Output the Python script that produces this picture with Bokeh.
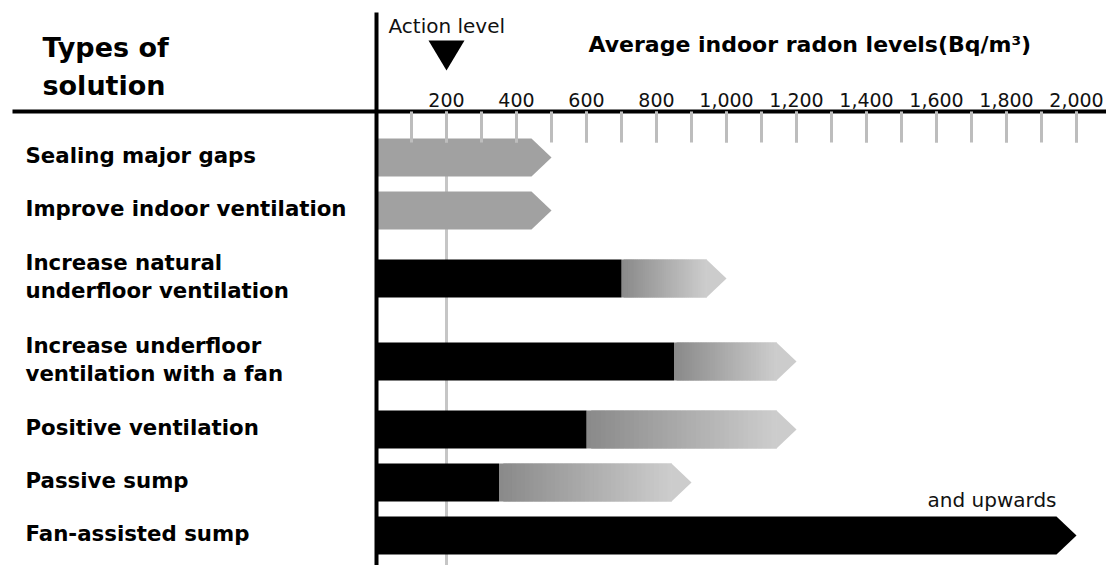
from bokeh.plotting import figure
from bokeh.models import Range1d, LinearAxis, FixedTicker, NumeralTickFormatter
from bokeh.core.properties import value
from bokeh.embed import file_html
from bokeh.resources import INLINE

# ---------------- data ----------------
solutions = [
    "Sealing major gaps",
    "Improve indoor ventilation",
    "Increase natural\nunderfloor ventilation",
    "Increase underfloor\nventilation with a fan",
    "Positive ventilation",
    "Passive sump",
    "Fan-assisted sump",
]
# level reached reliably (black part), Bq/m3
reliable_level = [0, 0, 700, 850, 600, 350, 2000]
# upper end of the range (arrow tip), Bq/m3
upper_level = [500, 500, 1000, 1200, 1200, 900, 2000]
action_level = 200
tick_values = [200, 400, 600, 800, 1000, 1200, 1400, 1600, 1800, 2000]
minor_tick_values = [100, 200, 300, 400, 500, 600, 700, 800, 900, 1000,
                     1100, 1200, 1300, 1400, 1500, 1600, 1700, 1800, 1900, 2000]
x_title = "Average indoor radon levels(Bq/m³)"
y_title = "Types of\nsolution"
action_text = "Action level"
note_text = "and upwards"

# ---------------- layout ----------------
W, H = 1106, 565
PX = 0.35          # pixels per Bq/m3
X0 = 376           # pixel position of zero
AXIS_Y = 111
HEAD = 20 / PX     # arrow head length
BAR_H = 38
FONT = "DejaVu Sans"


def xd(px):
    return (px - X0) / PX


p = figure(width=W, height=H, x_range=Range1d(xd(0), xd(W)), y_range=Range1d(H, 0),
           output_backend="svg", toolbar_location=None, min_border=0,
           x_axis_location=None, y_axis_location=None, outline_line_color=None)
p.grid.visible = False

# row positions from number of text lines
centers = []
pos = 130.5
for s in solutions:
    half = 26.5 if s.count("\n") == 0 else 41.5
    centers.append(pos + half)
    pos += 2 * half

# action level guide
p.segment(x0=[action_level], y0=[AXIS_Y], x1=[action_level], y1=[H],
          line_color="#c6c6c6", line_width=3)


def lerp(c0, c1, t):
    return "#%02x%02x%02x" % tuple(int(round(a + (b - a) * t)) for a, b in zip(c0, c1))


G0 = (0x8a, 0x8a, 0x8a)
G1 = (0xcc, 0xcc, 0xcc)
N = 40
for yc, lo, hi in zip(centers, reliable_level, upper_level):
    top, bot = yc - BAR_H / 2, yc + BAR_H / 2
    sh = hi - HEAD
    if lo >= hi:
        p.patch(x=[0, sh, hi, sh, 0], y=[top, top, yc, bot, bot], fill_color="black", line_color=None)
        continue
    if lo <= 0:
        p.patch(x=[0, sh, hi, sh, 0], y=[top, top, yc, bot, bot], fill_color="#a1a1a1", line_color=None)
        continue
    step = (sh - lo) / N
    lefts = [lo + k * step for k in range(N)]
    rights = [min(lo + (k + 2) * step, sh + 1) for k in range(N)]
    cols = [lerp(G0, G1, k / (N - 1)) for k in range(N)]
    p.quad(left=lefts, right=rights, top=[top] * N, bottom=[bot] * N, fill_color=cols, line_color=None)
    p.patch(x=[sh, hi, sh], y=[top, yc, bot], fill_color=lerp(G0, G1, 1.0), line_color=None)
    p.quad(left=[0], right=[lo], top=[top], bottom=[bot], fill_color="black", line_color=None)

# note above the last bar
p.text(x=[upper_level[-1] - HEAD], y=[centers[-1] - BAR_H / 2 - 17], text=[note_text],
       text_font=value(FONT), text_font_size="20px", text_align="right",
       text_baseline="alphabetic", text_color="#111111")

# row labels
for yc, s in zip(centers, solutions):
    lines = s.split("\n")
    n = len(lines)
    for k, ln in enumerate(lines):
        p.text(x=[xd(25)], y=[yc - 2 + (k - (n - 1) / 2) * 28], text=[ln],
               text_font=value(FONT), text_font_style="bold", text_font_size="21.3px",
               text_align="left", text_baseline="middle", text_color="black")

# vertical divider (zero line)
p.segment(x0=[0], y0=[12], x1=[0], y1=[H], line_color="black", line_width=4)

# top axis
ax = LinearAxis(fixed_location=AXIS_Y,
                ticker=FixedTicker(ticks=tick_values, minor_ticks=minor_tick_values),
                formatter=NumeralTickFormatter(format="0,0"),
                bounds=(xd(12), xd(W)),
                axis_line_color="black", axis_line_width=4,
                major_tick_in=31, major_tick_out=0, minor_tick_in=31, minor_tick_out=0,
                major_tick_line_color="#bdbdbd", major_tick_line_width=3,
                minor_tick_line_color="#bdbdbd", minor_tick_line_width=3,
                major_label_text_font=FONT, major_label_text_font_size="19px",
                major_label_text_color="#111111", major_label_standoff=5)
p.add_layout(ax, "above")

# header texts
yl = y_title.split("\n")
for k, ln in enumerate(yl):
    p.text(x=[xd(42)], y=[47 + k * 38], text=[ln], text_font=value(FONT),
           text_font_style="bold", text_font_size="27px", text_align="left",
           text_baseline="alphabetic", text_color="black")

p.text(x=[xd(588)], y=[44], text=[x_title], text_font=value(FONT), text_font_style="bold",
       text_font_size="22px", text_align="left", text_baseline="alphabetic", text_color="black")

p.text(x=[xd(388)], y=[25], text=[action_text], text_font=value(FONT), text_font_size="20px",
       text_align="left", text_baseline="alphabetic", text_color="#111111")

tw = 18 / PX
p.patch(x=[action_level - tw, action_level + tw, action_level], y=[40, 40, 70],
        fill_color="black", line_color=None)

open("out.html", "w").write(file_html(p, INLINE))
